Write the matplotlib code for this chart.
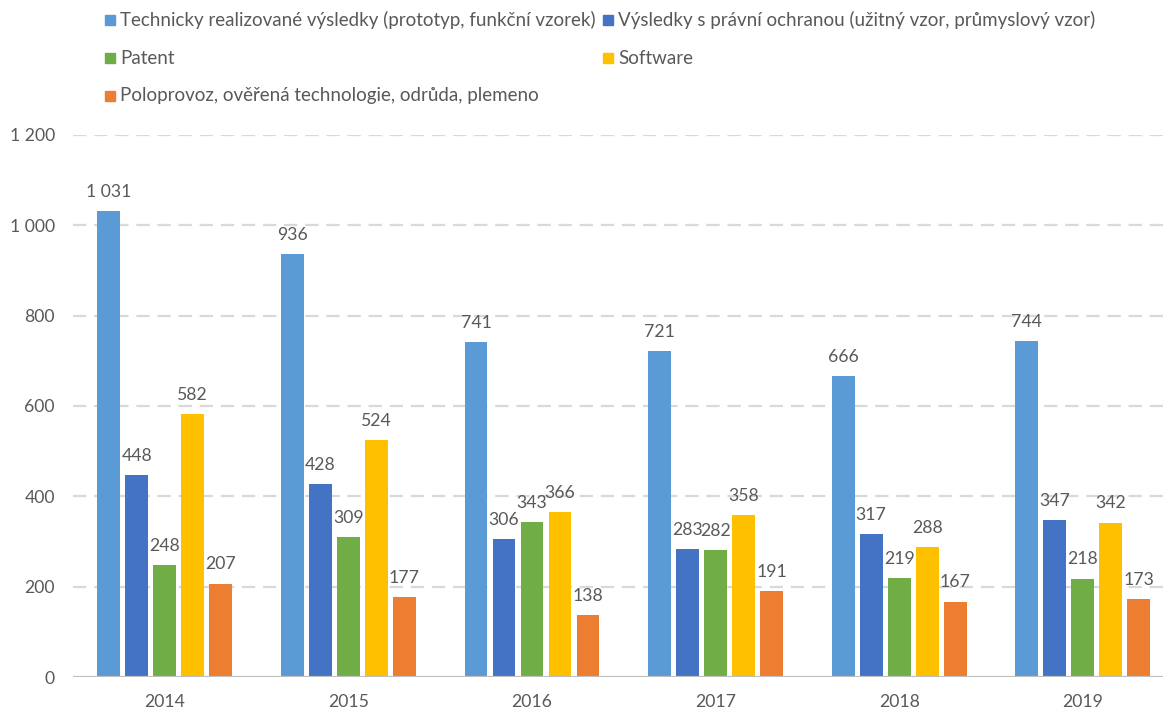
import matplotlib
matplotlib.use("Agg")
import matplotlib.pyplot as plt
from matplotlib.patches import Rectangle
import numpy as np

years = ["2014", "2015", "2016", "2017", "2018", "2019"]
series_names = [
    "Technicky realizované výsledky (prototyp, funkční vzorek)",
    "Výsledky s právní ochranou (užitný vzor, průmyslový vzor)",
    "Patent",
    "Software",
    "Poloprovoz, ověřená technologie, odrůda, plemeno",
]
technicke = [1031, 936, 741, 721, 666, 744]
pravni_ochrana = [448, 428, 306, 283, 317, 347]
patent = [248, 309, 343, 282, 219, 218]
software = [582, 524, 366, 358, 288, 342]
poloprovoz = [207, 177, 138, 191, 167, 173]
series_values = [technicke, pravni_ochrana, patent, software, poloprovoz]
colors = ["#5B9BD5", "#4472C4", "#70AD47", "#FFC000", "#ED7D31"]
y_ticks = [0, 200, 400, 600, 800, 1000, 1200]

FONT = "Lato"
TEXT_COLOR = "#595959"
W, H = 1163, 711
plt.rcParams["font.family"] = [FONT, "DejaVu Sans"]

fig = plt.figure(figsize=(W / 100, H / 100), dpi=100)
# plot area in pixel coordinates
left_px, right_px, top_px, bottom_px = 73, 1163, 135, 677
ax = fig.add_axes([left_px / W, 1 - bottom_px / H,
                   (right_px - left_px) / W, (bottom_px - top_px) / H])

group_w = 183.6  # pixels per category
ax.set_xlim(-0.5, -0.5 + (right_px - left_px) / group_w)
ax.set_ylim(0, 1200)

def fmt(v):
    return f"{v:,}".replace(",", " ")

x = np.arange(len(years))
bar_w = 0.125
pitch = 0.1525
for i, (vals, c) in enumerate(zip(series_values, colors)):
    offs = (i - 2) * pitch
    bars = ax.bar(x + offs, vals, width=bar_w, color=c, zorder=3)
    for b, v in zip(bars, vals):
        ax.annotate(fmt(v), (b.get_x() + b.get_width() / 2, v),
                    xytext=(0, 8), textcoords="offset points",
                    ha="center", va="bottom", fontsize=12.7, color=TEXT_COLOR)

for t in y_ticks[1:]:
    ax.axhline(t, color="#D9D9D9", lw=1.6, ls=(0, (6, 3.5)), zorder=1)
ax.axhline(0, color="#BFBFBF", lw=1.6, zorder=4)

ax.set_yticks(y_ticks)
ax.set_yticklabels([fmt(t) for t in y_ticks])
ax.set_xticks(x)
ax.set_xticklabels(years)
ax.tick_params(axis="both", length=0, labelsize=12.7, colors=TEXT_COLOR)
ax.tick_params(axis="y", pad=13)
ax.tick_params(axis="x", pad=12)
for s in ax.spines.values():
    s.set_visible(False)

# legend laid out in two columns at the top
legend_pos = [(105, 20), (603, 20), (105, 58), (603, 58), (105, 96)]
for (px, py), name, c in zip(legend_pos, series_names, colors):
    fig.add_artist(Rectangle((px / W, 1 - (py + 5) / H), 10 / W, 10 / H,
                             transform=fig.transFigure, color=c))
    fig.text((px + 15) / W, 1 - py / H, name, ha="left", va="center",
             fontsize=13.5, color=TEXT_COLOR)

fig.savefig("out.png", dpi=100, facecolor="white")
